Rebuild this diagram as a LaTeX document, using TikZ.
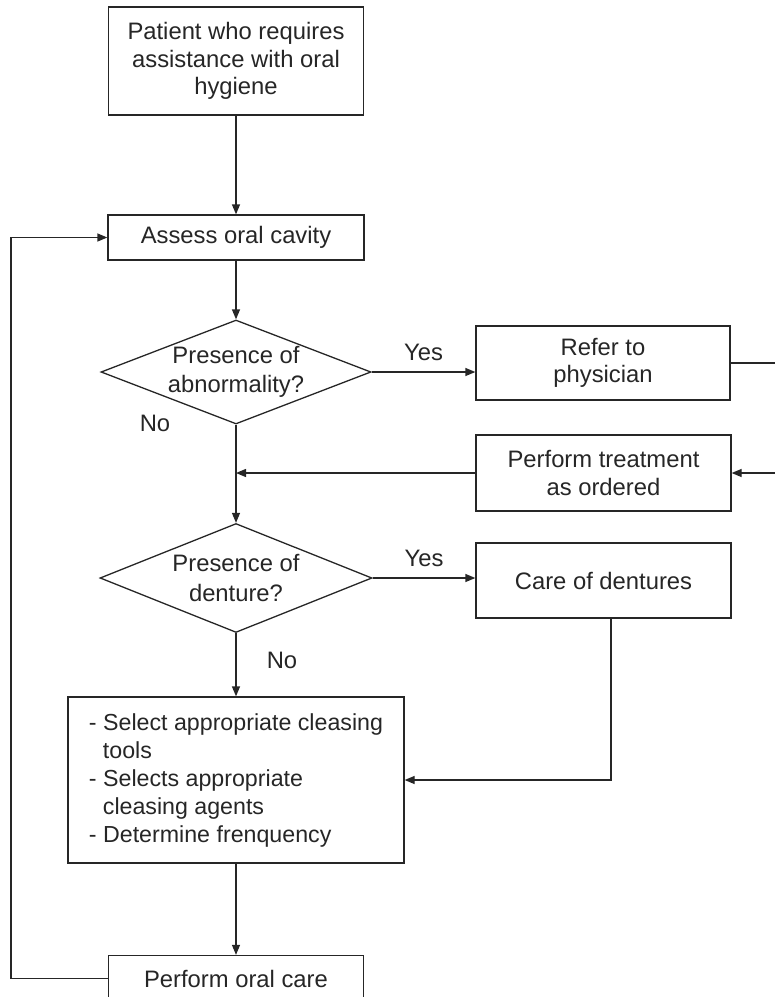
\documentclass[tikz,border=0pt]{standalone}
\usepackage{fontspec}
\setmainfont{Liberation Sans}
\usetikzlibrary{shapes.geometric, arrows.meta, positioning}

\begin{document}
\begin{tikzpicture}[x=0.5pt, y=-0.5pt, >={Triangle[length=5pt,width=4pt]}]
    \tikzstyle{box} = [rectangle, draw=black!85, line width=0.65pt, text centered, inner sep=0pt, font=\fontsize{11.9}{13.6}\selectfont, text=black!85]
    \tikzstyle{decision} = [diamond, draw=black!85, line width=0.65pt, aspect=2.6, inner sep=0pt, text centered, font=\fontsize{11.9}{14.6}\selectfont, text=black!85]
    \tikzstyle{line} = [draw=black!85, line width=0.65pt]
    \tikzstyle{answer} = [font=\fontsize{11.9}{14}\selectfont, text=black!85]

    \useasboundingbox (0,0) rectangle (775,997);

    \node[box, minimum width=127.5pt, minimum height=54pt, align=center] (patient) at (236,61) {Patient who requires\\assistance with oral\\hygiene};
    \node[box, minimum width=128pt, minimum height=22.5pt] (assess) at (236,237.5) {Assess oral cavity};
    \node[decision, minimum width=135pt, minimum height=52pt, align=center] (abn) at (236,372) {Presence of\\abnormality?};
    \node[box, minimum width=127pt, minimum height=37pt, align=center] (refer) at (603,363) {Refer to\\physician};
    \node[box, minimum width=127.5pt, minimum height=38pt, align=center] (treat) at (603.5,473) {Perform treatment\\as ordered};
    \node[decision, minimum width=136pt, minimum height=54.5pt, align=center] (dent) at (236,578) {Presence of\\denture?};
    \node[box, minimum width=127.5pt, minimum height=37.5pt] (dcare) at (603.5,580.5) {Care of dentures};
    \node[box, minimum width=168pt, minimum height=83pt, align=left, font=\fontsize{11.6}{14}\selectfont] (plan) at (236,780) {- Select appropriate cleasing\\\hspace*{0.6em}tools\\- Selects appropriate\\\hspace*{0.6em}cleasing agents\\- Determine frenquency};
    \node[box, minimum width=127.5pt, minimum height=23pt] (care) at (236,978.5) {Perform oral care};

    \coordinate (rout) at (775,363);
    \coordinate (rin) at (775,473);

    % main trunk
    \draw[line, ->] (patient.south) -- (assess.north);
    \draw[line, ->] (assess.south) -- (abn.north);
    \draw[line, ->] (abn.south) -- (dent.north);
    \draw[line, ->] (dent.south) -- (plan.north);
    \draw[line, ->] (plan.south) -- (care.north);

    % side branches
    \draw[line, ->] (abn.east) -- (abn.east -| refer.west) node[answer, pos=0.5, above=2pt] {Yes};
    \draw[line] (refer.east) -- (rout);
    \draw[line, ->] (rin) -- (treat.east);
    \draw[line, ->] (treat.west) -- (treat.west -| abn.south);
    \draw[line, ->] (dent.east) -- (dent.east -| dcare.west) node[answer, pos=0.5, above=2pt] {Yes};
    \draw[line, ->] ([xshift=3.75pt]dcare.south) |- (plan.east);

    \node[answer] (no1) at (155,423) {No};
    \node[answer] (no2) at (282,660) {No};

    % loop back
    \draw[line, ->] (care.west) -- ++(-97,0) |- (assess.west);
\end{tikzpicture}
\end{document}
